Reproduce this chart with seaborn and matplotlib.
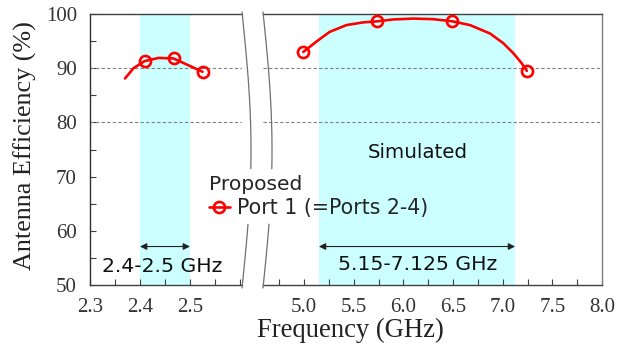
import numpy as np
import matplotlib
matplotlib.use("Agg")
import matplotlib.pyplot as plt
from matplotlib.lines import Line2D
from matplotlib.ticker import MultipleLocator, FixedLocator
import seaborn as sns

# Port 1 antenna efficiency around the 2.4 GHz band
low_curve_freq = [2.37, 2.387, 2.409, 2.437, 2.467, 2.493, 2.525]
low_curve_eff = [88.1, 90.0, 91.3, 91.9, 91.8, 90.7, 89.35]
low_marker_freq = [2.409, 2.467, 2.525]
low_marker_eff = [91.3, 91.8, 89.35]

# Port 1 antenna efficiency across 5-7 GHz
high_curve_freq = [4.993, 5.124, 5.258, 5.426, 5.594, 5.738, 5.9, 6.1, 6.3,
                   6.493, 6.672, 6.873, 7.007, 7.108, 7.192, 7.243]
high_curve_eff = [93.0, 94.9, 96.7, 97.95, 98.45, 98.65, 99.0, 99.15, 99.05,
                  98.65, 97.95, 96.4, 94.6, 92.75, 90.9, 89.5]
high_marker_freq = [4.993, 5.738, 6.493, 7.243]
high_marker_eff = [93.0, 98.65, 98.65, 89.5]

low_band = (2.4, 2.5)
high_band = (5.15, 7.125)
low_ticks = [2.3, 2.4, 2.5]
high_ticks = [5.0, 5.5, 6.0, 6.5, 7.0, 7.5, 8.0]
y_ticks = [50, 60, 70, 80, 90, 100]
grid_levels = [80, 90]

low_band_label = "2.4-2.5 GHz"
high_band_label = "5.15-7.125 GHz"

sns.set_theme(style="white")
plt.rcParams["font.family"] = ["Liberation Serif", "DejaVu Serif"]

RED = "#FF0000"
BAND = "#CCFFFF"
SANS = ["DejaVu Sans"]
W, H = 634, 350


def fx(px):
    return px / W


def fy(py):
    return 1 - py / H


fig = plt.figure(figsize=(W / 100, H / 100), dpi=100)
fig.patch.set_facecolor("white")

ax_l = fig.add_axes([fx(90), fy(285), 152 / W, 271 / H])
ax_r = fig.add_axes([fx(263), fy(285), 339 / W, 271 / H])

ax_l.set_xlim(2.3, 2.604)
ax_r.set_xlim(4.587, 8.0)
for ax in (ax_l, ax_r):
    ax.set_ylim(50, 100)
    ax.set_facecolor("white")
    for lvl in grid_levels:
        ax.axhline(lvl, color="#808080", lw=0.8, dashes=(3, 2), zorder=1)

ax_l.axvspan(*low_band, color=BAND, lw=0, zorder=0)
ax_r.axvspan(*high_band, color=BAND, lw=0, zorder=0)

line_kw = dict(color=RED, lw=1.9, estimator=None, sort=False, zorder=3)
mark_kw = dict(color=RED, linestyle="", marker="o", markersize=8,
               markerfacecolor="none", markeredgecolor=RED, markeredgewidth=1.9,
               estimator=None, zorder=4)
sns.lineplot(x=low_curve_freq, y=low_curve_eff, ax=ax_l, **line_kw)
sns.lineplot(x=low_marker_freq, y=low_marker_eff, ax=ax_l, **mark_kw)
sns.lineplot(x=high_curve_freq, y=high_curve_eff, ax=ax_r, **line_kw)
sns.lineplot(x=high_marker_freq, y=high_marker_eff, ax=ax_r, **mark_kw)

# spines
for ax in (ax_l, ax_r):
    ax.spines["top"].set_color("#404040")
    ax.spines["bottom"].set_color("#404040")
    for s in ax.spines.values():
        s.set_linewidth(1.0)
ax_l.spines["right"].set_visible(False)
ax_l.spines["left"].set_color("#303030")
ax_r.spines["left"].set_visible(False)
ax_r.spines["right"].set_color("#808080")

# ticks
ax_l.xaxis.set_major_locator(FixedLocator(low_ticks))
ax_l.xaxis.set_minor_locator(MultipleLocator(0.05))
ax_r.xaxis.set_major_locator(FixedLocator(high_ticks))
ax_r.xaxis.set_minor_locator(MultipleLocator(0.25))
ax_l.yaxis.set_major_locator(FixedLocator(y_ticks))
ax_l.yaxis.set_minor_locator(MultipleLocator(5))
ax_l.set_xticklabels([f"{t:.1f}" for t in low_ticks])
ax_r.set_xticklabels([f"{t:.1f}" for t in high_ticks])
ax_l.set_yticklabels([str(t) for t in y_ticks])
for ax in (ax_l, ax_r):
    ax.tick_params(axis="both", which="both", direction="in", length=4,
                   width=0.8, color="#404040", labelsize=15, pad=9.5,
                   labelcolor="#333333")
ax_l.tick_params(axis="y", which="both", left=True, right=False)
ax_l.tick_params(axis="x", which="both", bottom=True, top=False)
ax_r.tick_params(axis="y", which="both", left=False, right=False, labelleft=False)
ax_r.tick_params(axis="x", which="both", bottom=True, top=False)
ax_l.set_xlabel("")
ax_l.set_ylabel("")
ax_r.set_xlabel("")
ax_r.set_ylabel("")

# band arrows and labels
arrow_kw = dict(arrowstyle="<|-|>", color="#202020", lw=0.8,
                mutation_scale=10, shrinkA=0, shrinkB=0)
ax_l.annotate("", xy=(low_band[0], 57.1), xytext=(low_band[1], 57.1),
              arrowprops=arrow_kw, zorder=5)
ax_r.annotate("", xy=(high_band[0], 57.1), xytext=(high_band[1], 57.1),
              arrowprops=arrow_kw, zorder=5)
ax_l.text(2.444, 53.5, low_band_label, ha="center", va="center",
          fontsize=14.7, family=SANS, color="#111111", clip_on=False)
ax_r.text(6.148, 53.7, high_band_label, ha="center", va="center",
          fontsize=14.7, family=SANS, color="#111111")
ax_r.text(6.143, 74.4, "Simulated", ha="center", va="center",
          fontsize=14.3, family=SANS, color="#111111")

# axis break marks
t = np.linspace(0, 1, 200)
ys = 12 + t * (288 - 12)
for x0 in (242, 263):
    xs = x0 + 9 * np.sin(np.pi * t)
    for sel in (ys < 170, ys > 224):
        fig.add_artist(Line2D(fx(xs[sel]), fy(ys[sel]), transform=fig.transFigure,
                              color="#707070", lw=0.9))

# legend
handle = Line2D([], [], color=RED, lw=1.9, marker="o", markersize=8,
                markerfacecolor="none", markeredgecolor=RED, markeredgewidth=1.9)
leg = fig.legend(handles=[handle], labels=["Port 1 (=Ports 2-4)"],
                 title="Proposed", loc="upper left",
                 bbox_to_anchor=(fx(209), fy(175)), frameon=False,
                 prop={"family": SANS, "size": 14.8},
                 title_fontproperties={"family": SANS, "size": 14.6},
                 alignment="left", handlelength=1.0, handletextpad=0.35,
                 borderpad=0, borderaxespad=0, labelspacing=0.2)

# axis titles
fig.text(fx(25), fy(146), "Antenna Efficiency (%)", rotation=90,
         ha="center", va="center", fontsize=18.8, color="#222222")
fig.text(fx(350), fy(330), "Frequency (GHz)", ha="center", va="center",
         fontsize=19.2, color="#222222")

fig.savefig("out.png", dpi=100, facecolor="white")
